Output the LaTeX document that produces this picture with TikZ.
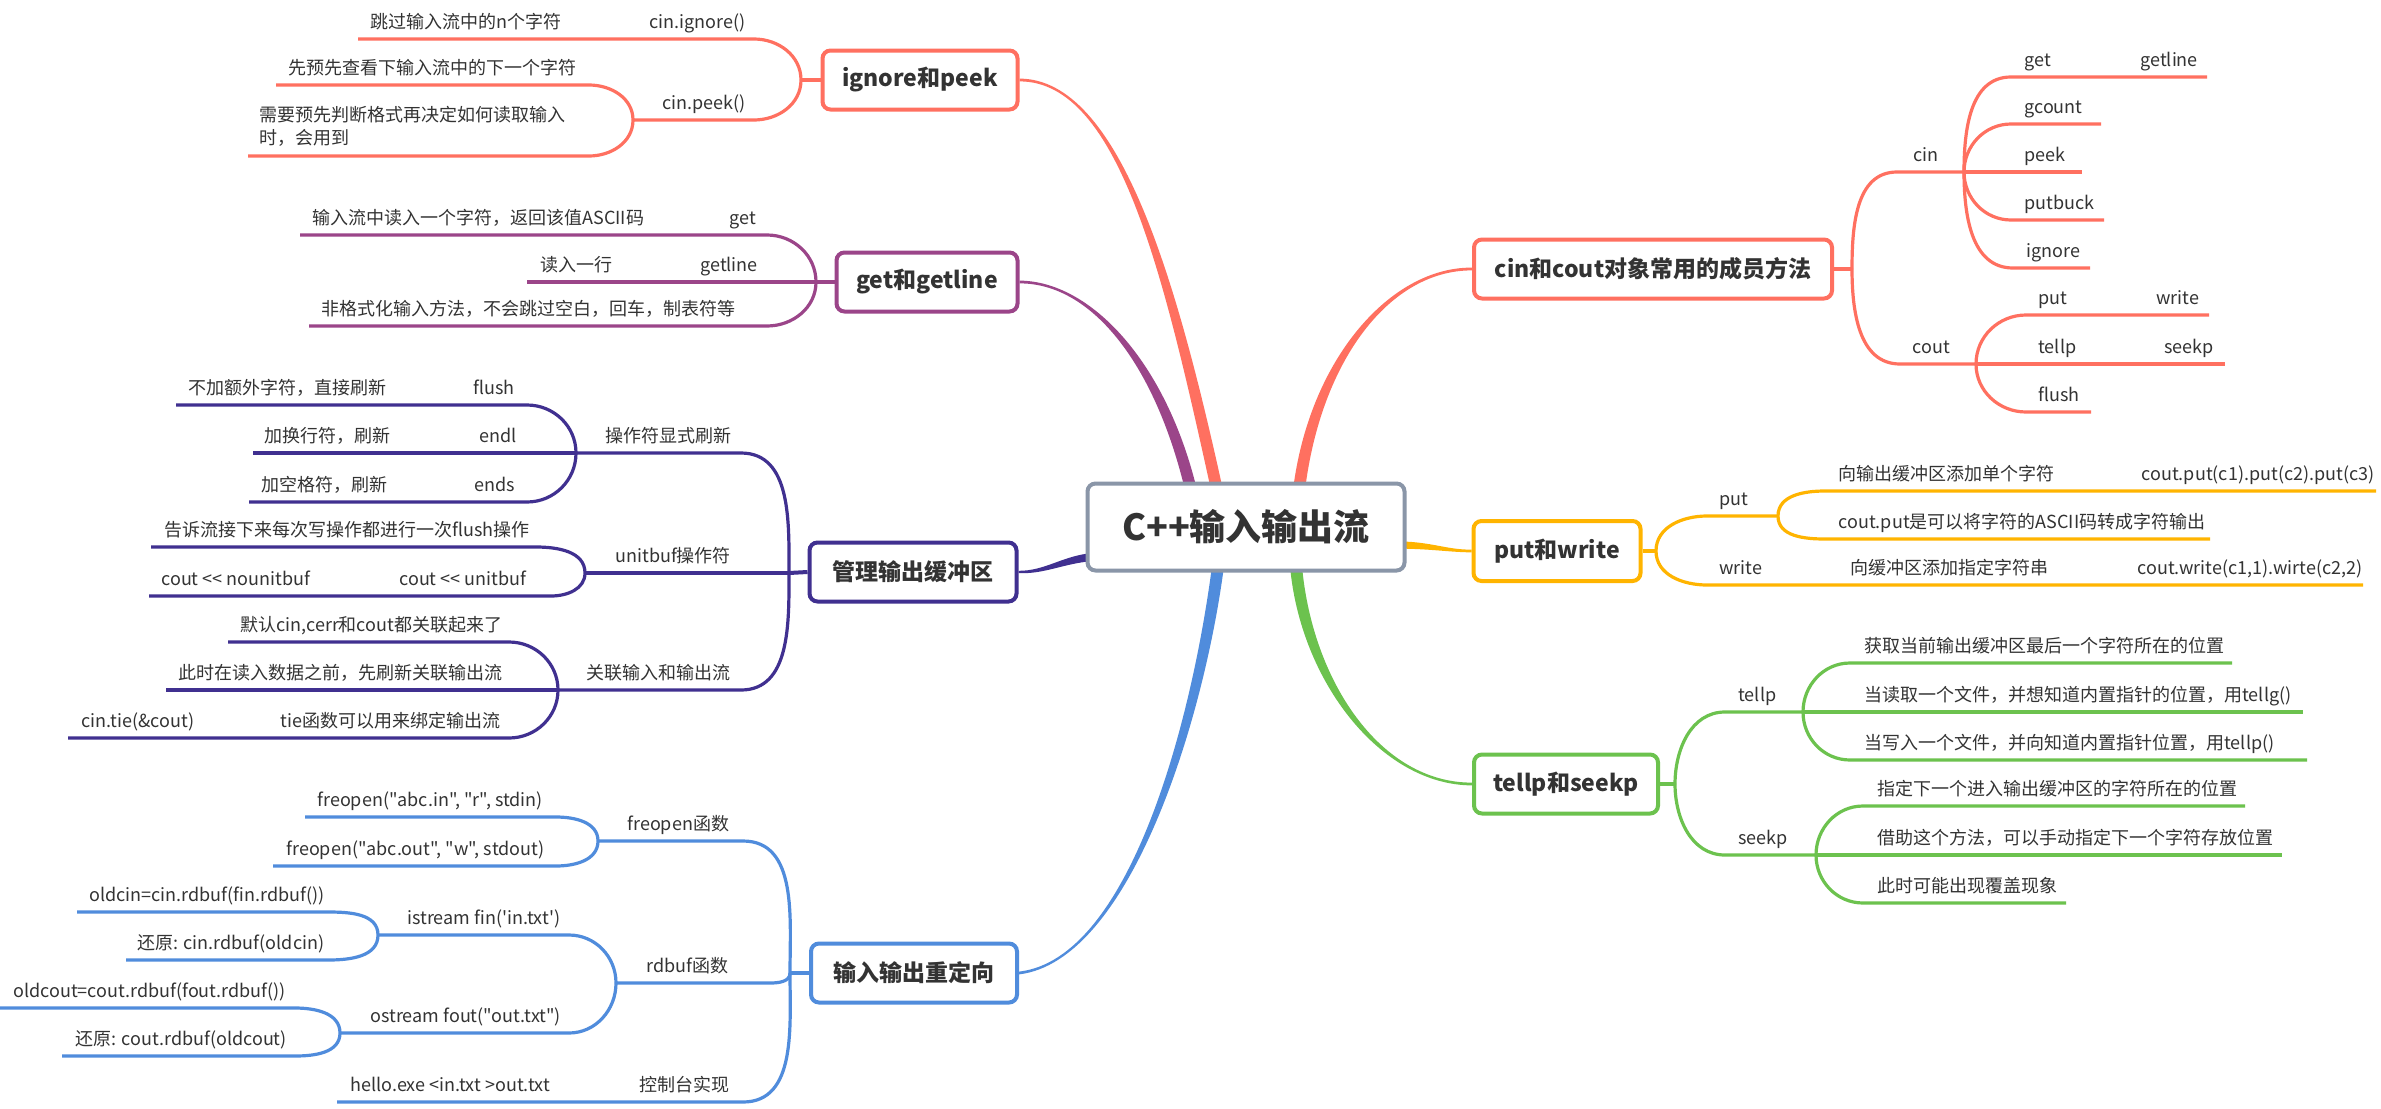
\documentclass[tikz,border=0pt]{standalone}
\usepackage{fontspec}
\setmainfont{Noto Sans CJK SC}[Ligatures=TeXOff]
\usepackage{tikz}
\definecolor{coral}{HTML}{FF7060}
\definecolor{plum}{HTML}{9B4589}
\definecolor{indigo}{HTML}{403090}
\definecolor{sky}{HTML}{508CDC}
\definecolor{amber}{HTML}{FFB400}
\definecolor{leaf}{HTML}{6CC24E}
\definecolor{slate}{HTML}{8A96A8}
\definecolor{ink}{HTML}{333333}

\begin{document}
\begin{tikzpicture}[x=0.5pt, y=-0.5pt,
  topic/.style={shape=rectangle, rounded corners=4pt, draw, line width=2pt, fill=white, text=ink, inner sep=0pt, minimum height=29.5pt, font=\fontsize{11.5}{14}\selectfont\bfseries},
  lbl/.style={anchor=base west, inner sep=0pt, text=ink, font=\fontsize{9}{11.5}\selectfont},
  ln/.style={line width=1.6pt},
  stub/.style={line width=2pt}]
\useasboundingbox (0,0) rectangle (2381,1108);
\fill[white] (0,0) rectangle (2381,1108);

\node[topic, draw=coral, minimum width=97.5pt] (ign) at (920,80) {ignore和peek};
\node[topic, draw=plum, minimum width=90.5pt] (gg) at (927,282) {get和getline};
\node[topic, draw=indigo, minimum width=103.5pt] (mgr) at (913,572) {管理输出缓冲区};
\node[topic, draw=sky, minimum width=103pt] (rd) at (914,973) {输入输出重定向};
\node[topic, draw=coral, minimum width=179pt] (cc) at (1653,269) {cin和cout对象常用的成员方法};
\node[topic, draw=amber, minimum width=83.5pt, minimum height=30pt] (pw) at (1557,551) {put和write};
\node[topic, draw=leaf, minimum width=92pt] (ts) at (1566,784) {tellp和seekp};

\coordinate (rA) at (1217,490);
\coordinate (rB) at (1191,490);
\coordinate (rC) at (1092,557);
\coordinate (rD) at (1218,566);
\coordinate (rE) at (1299,490);
\coordinate (rF) at (1400,545);
\coordinate (rG) at (1296,566);
\fill[coral] ([yshift=-0.7pt]ign.east) .. controls (1120,81) and (1165,281) .. ([xshift=-3pt]rA) -- ([xshift=3pt]rA) .. controls (1177,281) and (1120,79) .. ([yshift=0.7pt]ign.east) -- cycle;
\fill[plum] ([yshift=-0.7pt]gg.east) .. controls (1090,283) and (1154,361) .. ([xshift=-3pt]rB) -- ([xshift=3pt]rB) .. controls (1166,361) and (1090,281) .. ([yshift=0.7pt]gg.east) -- cycle;
\fill[indigo] ([yshift=0.6pt]mgr.east) .. controls (1045,571) and (1062,556) .. ([yshift=2pt]rC) -- ([yshift=-2pt]rC) .. controls (1062,564) and (1045,574) .. ([yshift=-0.6pt]mgr.east) -- cycle;
\fill[sky] ([yshift=0.7pt]rd.east) .. controls (1130,959) and (1192,720) .. ([xshift=-3pt]rD) -- ([xshift=3pt]rD) .. controls (1204,720) and (1130,961) .. ([yshift=-0.7pt]rd.east) -- cycle;
\fill[coral] ([xshift=-3pt]rE) .. controls (1309,360) and (1390,267) .. ([yshift=0.7pt]cc.west) -- ([yshift=-0.7pt]cc.west) .. controls (1390,270) and (1321,360) .. ([xshift=3pt]rE) -- cycle;
\fill[amber] ([yshift=1.8pt]rF) .. controls (1432,542) and (1448,550) .. ([yshift=0.7pt]pw.west) -- ([yshift=-0.7pt]pw.west) .. controls (1448,552) and (1432,549) .. ([yshift=-1.8pt]rF) -- cycle;
\fill[leaf] ([xshift=3pt]rG) .. controls (1312,680) and (1380,783) .. ([yshift=0.7pt]ts.west) -- ([yshift=-0.7pt]ts.west) .. controls (1380,785) and (1300,680) .. ([xshift=-3pt]rG) -- cycle;

\node[topic, draw=slate, minimum width=158.5pt, minimum height=43.5pt, font=\fontsize{18}{22}\selectfont\bfseries] (root) at (1246,527) {C++输入输出流};

% ignore和peek
\coordinate (jI) at (801,80);
\coordinate (igA) at (754,39); \coordinate (igAx) at (358,39);
\coordinate (igB) at (754,120); \coordinate (jP) at (633,120);
\coordinate (igC) at (589,85); \coordinate (igCx) at (276,85);
\coordinate (igD) at (589,156); \coordinate (igDx) at (248,156);
\draw[stub, coral] (ign.west) -- (jI);
\draw[ln, coral] (jI) to[out=90, in=0] (igA) -- (igAx);
\draw[ln, coral] (jI) to[out=-90, in=0] (igB) -- (jP);
\draw[ln, coral] (jP) to[out=90, in=0] (igC) -- (igCx);
\draw[ln, coral] (jP) to[out=-90, in=0] (igD) -- (igDx);
\node[lbl] (igT1) at (370,28) {跳过输入流中的n个字符};
\node[lbl] (igT2) at (649,28) {cin.ignore()};
\node[lbl] (igT3) at (662,109) {cin.peek()};
\node[lbl] (igT4) at (288,74) {先预先查看下输入流中的下一个字符};
\node[lbl, anchor=south west, align=left] (igT5) at (259,147) {需要预先判断格式再决定如何读取输入\\时，会用到};

% get和getline
\coordinate (jG) at (816,282);
\coordinate (ggA) at (767,235); \coordinate (ggAx) at (300,235);
\coordinate (ggB) at (527,282);
\coordinate (ggC) at (767,326); \coordinate (ggCx) at (309,326);
\draw[stub, plum] (gg.west) -- (jG);
\draw[ln, plum] (jG) to[out=90, in=0] (ggA) -- (ggAx);
\draw[ln, plum] (jG) -- (ggB);
\draw[ln, plum] (jG) to[out=-90, in=0] (ggC) -- (ggCx);
\node[lbl] (ggT1) at (312,224) {输入流中读入一个字符，返回该值ASCII码};
\node[lbl] (ggT2) at (729,224) {get};
\node[lbl] (ggT3) at (540,271) {读入一行};
\node[lbl] (ggT4) at (700,271) {getline};
\node[lbl] (ggT5) at (321,315) {非格式化输入方法，不会跳过空白，回车，制表符等};

% 管理输出缓冲区
\coordinate (jM) at (789,573);
\coordinate (mgA) at (741,453); \coordinate (jF) at (576,453);
\coordinate (mgB) at (527,405); \coordinate (mgBx) at (176,405);
\coordinate (mgC) at (253,453);
\coordinate (mgD) at (527,502); \coordinate (mgDx) at (249,502);
\coordinate (jU) at (585,573);
\coordinate (mgE) at (536,547); \coordinate (mgEx) at (151,547);
\coordinate (mgF) at (551,596); \coordinate (mgFx) at (149,596);
\coordinate (mgG) at (741,690); \coordinate (jL) at (558,690);
\coordinate (mgH) at (509,642); \coordinate (mgHx) at (228,642);
\coordinate (mgI) at (166,690);
\coordinate (mgJ) at (509,738); \coordinate (mgJx) at (68,738);
\draw[stub, indigo] (mgr.west) -- (jM);
\draw[ln, indigo] (jM) to[out=90, in=0] (mgA) -- (jF);
\draw[ln, indigo] (jF) to[out=90, in=0] (mgB) -- (mgBx);
\draw[ln, indigo] (jF) -- (mgC);
\draw[ln, indigo] (jF) to[out=-90, in=0] (mgD) -- (mgDx);
\draw[ln, indigo] (jM) -- (jU);
\draw[ln, indigo] (jU) to[out=90, in=0] (mgE) -- (mgEx);
\draw[ln, indigo] (jU) to[out=-90, in=0] (mgF) -- (mgFx);
\draw[ln, indigo] (jM) to[out=-90, in=0] (mgG) -- (jL);
\draw[ln, indigo] (jL) to[out=90, in=0] (mgH) -- (mgHx);
\draw[ln, indigo] (jL) -- (mgI);
\draw[ln, indigo] (jL) to[out=-90, in=0] (mgJ) -- (mgJx);
\node[lbl] (mgT1) at (605,442) {操作符显式刷新};
\node[lbl] (mgT2) at (188,394) {不加额外字符，直接刷新};
\node[lbl] (mgT3) at (473,394) {flush};
\node[lbl] (mgT4) at (264,442) {加换行符，刷新};
\node[lbl] (mgT5) at (479,442) {endl};
\node[lbl] (mgT6) at (261,491) {加空格符，刷新};
\node[lbl] (mgT7) at (474,491) {ends};
\node[lbl] (mgT8) at (615,562) {unitbuf操作符};
\node[lbl] (mgT9) at (164,536) {告诉流接下来每次写操作都进行一次flush操作};
\node[lbl] (mgT10) at (161,585) {cout \textless\textless{} nounitbuf};
\node[lbl] (mgT11) at (399,585) {cout \textless\textless{} unitbuf};
\node[lbl] (mgT12) at (586,679) {关联输入和输出流};
\node[lbl] (mgT13) at (240,631) {默认cin,cerr和cout都关联起来了};
\node[lbl] (mgT14) at (178,679) {此时在读入数据之前，先刷新关联输出流};
\node[lbl] (mgT15) at (81,727) {cin.tie(\&cout)};
\node[lbl] (mgT16) at (280,727) {tie函数可以用来绑定输出流};

% 输入输出重定向
\coordinate (jR) at (790,973);
\coordinate (rdA) at (743,841); \coordinate (jFr) at (598,841);
\coordinate (rdB) at (556,817); \coordinate (rdBx) at (305,817);
\coordinate (rdC) at (556,866); \coordinate (rdCx) at (273,866);
\coordinate (rdD) at (770,983); \coordinate (jRb) at (616,983);
\coordinate (rdE) at (569,935); \coordinate (jIs) at (378,935);
\coordinate (rdF) at (328,912); \coordinate (rdFx) at (77,912);
\coordinate (rdG) at (328,960); \coordinate (rdGx) at (126,960);
\coordinate (rdH) at (569,1033); \coordinate (jOs) at (340,1033);
\coordinate (rdI) at (295,1008); \coordinate (rdIx) at (0,1008);
\coordinate (rdJ) at (295,1056); \coordinate (rdJx) at (62,1056);
\coordinate (rdK) at (743,1102); \coordinate (rdKx) at (337,1102);
\draw[stub, sky] (rd.west) -- (jR);
\draw[ln, sky] (jR) to[out=90, in=0] (rdA) -- (jFr);
\draw[ln, sky] (jFr) to[out=90, in=0] (rdB) -- (rdBx);
\draw[ln, sky] (jFr) to[out=-90, in=0] (rdC) -- (rdCx);
\draw[ln, sky] (jR) to[out=-90, in=0] (rdD) -- (jRb);
\draw[ln, sky] (jRb) to[out=90, in=0] (rdE) -- (jIs);
\draw[ln, sky] (jIs) to[out=90, in=0] (rdF) -- (rdFx);
\draw[ln, sky] (jIs) to[out=-90, in=0] (rdG) -- (rdGx);
\draw[ln, sky] (jRb) to[out=-90, in=0] (rdH) -- (jOs);
\draw[ln, sky] (jOs) to[out=90, in=0] (rdI) -- (rdIx);
\draw[ln, sky] (jOs) to[out=-90, in=0] (rdJ) -- (rdJx);
\draw[ln, sky] (jR) to[out=-90, in=0] (rdK) -- (rdKx);
\node[lbl] (rdT1) at (627,830) {freopen函数};
\node[lbl] (rdT2) at (317,806) {freopen("abc.in", "r", stdin)};
\node[lbl] (rdT3) at (286,855) {freopen("abc.out", "w", stdout)};
\node[lbl] (rdT4) at (646,972) {rdbuf函数};
\node[lbl] (rdT5) at (407,924) {istream fin('in.txt')};
\node[lbl] (rdT6) at (89,901) {oldcin=cin.rdbuf(fin.rdbuf())};
\node[lbl] (rdT7) at (137,949) {还原: cin.rdbuf(oldcin)};
\node[lbl] (rdT8) at (370,1022) {ostream fout("out.txt")};
\node[lbl] (rdT9) at (13,997) {oldcout=cout.rdbuf(fout.rdbuf())};
\node[lbl] (rdT10) at (75,1045) {还原: cout.rdbuf(oldcout)};
\node[lbl] (rdT11) at (639,1091) {控制台实现};
\node[lbl] (rdT12) at (350,1091) {hello.exe \textless in.txt \textgreater out.txt};

% cin和cout对象常用的成员方法
\coordinate (jC) at (1852,269);
\coordinate (ccA) at (1897,172); \coordinate (jCi) at (1964,172);
\coordinate (ccB) at (2011,77); \coordinate (ccBx) at (2207,77);
\coordinate (ccC) at (2011,124); \coordinate (ccCx) at (2101,124);
\coordinate (ccD) at (2082,172);
\coordinate (ccE) at (2011,220); \coordinate (ccEx) at (2104,220);
\coordinate (ccF) at (2013,268); \coordinate (ccFx) at (2090,268);
\coordinate (ccG) at (1900,364); \coordinate (jCo) at (1976,364);
\coordinate (ccH) at (2026,315); \coordinate (ccHx) at (2209,315);
\coordinate (ccI) at (2225,364);
\coordinate (ccJ) at (2026,412); \coordinate (ccJx) at (2091,412);
\draw[stub, coral] (cc.east) -- (jC);
\draw[ln, coral] (jC) to[out=90, in=180] (ccA) -- (jCi);
\draw[ln, coral] (jCi) to[out=90, in=180] (ccB) -- (ccBx);
\draw[ln, coral] (jCi) to[out=90, in=180] (ccC) -- (ccCx);
\draw[ln, coral] (jCi) -- (ccD);
\draw[ln, coral] (jCi) to[out=-90, in=180] (ccE) -- (ccEx);
\draw[ln, coral] (jCi) to[out=-90, in=180] (ccF) -- (ccFx);
\draw[ln, coral] (jC) to[out=-90, in=180] (ccG) -- (jCo);
\draw[ln, coral] (jCo) to[out=90, in=180] (ccH) -- (ccHx);
\draw[ln, coral] (jCo) -- (ccI);
\draw[ln, coral] (jCo) to[out=-90, in=180] (ccJ) -- (ccJx);
\node[lbl] (ccT1) at (1913,161) {cin};
\node[lbl] (ccT2) at (2024,66) {get};
\node[lbl] (ccT3) at (2140,66) {getline};
\node[lbl] (ccT4) at (2024,113) {gcount};
\node[lbl] (ccT5) at (2024,161) {peek};
\node[lbl] (ccT6) at (2024,209) {putbuck};
\node[lbl] (ccT7) at (2026,257) {ignore};
\node[lbl] (ccT8) at (1912,353) {cout};
\node[lbl] (ccT9) at (2038,304) {put};
\node[lbl] (ccT10) at (2156,304) {write};
\node[lbl] (ccT11) at (2038,353) {tellp};
\node[lbl] (ccT12) at (2164,353) {seekp};
\node[lbl] (ccT13) at (2038,401) {flush};

% put和write
\coordinate (jPw) at (1656,551);
\coordinate (pwA) at (1707,516); \coordinate (jPu) at (1778,516);
\coordinate (pwB) at (1825,491); \coordinate (pwBx) at (2376,491);
\coordinate (pwC) at (1825,539); \coordinate (pwCx) at (2210,539);
\coordinate (pwD) at (1707,585); \coordinate (pwDx) at (2363,585);
\draw[stub, amber] (pw.east) -- (jPw);
\draw[ln, amber] (jPw) to[out=90, in=180] (pwA) -- (jPu);
\draw[ln, amber] (jPu) to[out=90, in=180] (pwB) -- (pwBx);
\draw[ln, amber] (jPu) to[out=-90, in=180] (pwC) -- (pwCx);
\draw[ln, amber] (jPw) to[out=-90, in=180] (pwD) -- (pwDx);
\node[lbl] (pwT1) at (1719,505) {put};
\node[lbl] (pwT2) at (1838,480) {向输出缓冲区添加单个字符};
\node[lbl] (pwT3) at (2141,480) {cout.put(c1).put(c2).put(c3)};
\node[lbl] (pwT4) at (1838,528) {cout.put是可以将字符的ASCII码转成字符输出};
\node[lbl] (pwT5) at (1719,574) {write};
\node[lbl] (pwT6) at (1850,574) {向缓冲区添加指定字符串};
\node[lbl] (pwT7) at (2137,574) {cout.write(c1,1).wirte(c2,2)};

% tellp和seekp
\coordinate (jT) at (1675,784);
\coordinate (tsA) at (1725,712); \coordinate (jTe) at (1803,712);
\coordinate (tsB) at (1850,663); \coordinate (tsBx) at (2232,663);
\coordinate (tsC) at (2303,712);
\coordinate (tsD) at (1850,760); \coordinate (tsDx) at (2307,760);
\coordinate (tsE) at (1725,855); \coordinate (jSe) at (1816,855);
\coordinate (tsF) at (1863,806); \coordinate (tsFx) at (2245,806);
\coordinate (tsG) at (2282,855);
\coordinate (tsH) at (1863,903); \coordinate (tsHx) at (2066,903);
\draw[stub, leaf] (ts.east) -- (jT);
\draw[ln, leaf] (jT) to[out=90, in=180] (tsA) -- (jTe);
\draw[ln, leaf] (jTe) to[out=90, in=180] (tsB) -- (tsBx);
\draw[ln, leaf] (jTe) -- (tsC);
\draw[ln, leaf] (jTe) to[out=-90, in=180] (tsD) -- (tsDx);
\draw[ln, leaf] (jT) to[out=-90, in=180] (tsE) -- (jSe);
\draw[ln, leaf] (jSe) to[out=90, in=180] (tsF) -- (tsFx);
\draw[ln, leaf] (jSe) -- (tsG);
\draw[ln, leaf] (jSe) to[out=-90, in=180] (tsH) -- (tsHx);
\node[lbl] (tsT1) at (1738,701) {tellp};
\node[lbl] (tsT2) at (1864,652) {获取当前输出缓冲区最后一个字符所在的位置};
\node[lbl] (tsT3) at (1864,701) {当读取一个文件，并想知道内置指针的位置，用tellg()};
\node[lbl] (tsT4) at (1864,749) {当写入一个文件，并向知道内置指针位置，用tellp()};
\node[lbl] (tsT5) at (1738,844) {seekp};
\node[lbl] (tsT6) at (1877,795) {指定下一个进入输出缓冲区的字符所在的位置};
\node[lbl] (tsT7) at (1877,844) {借助这个方法，可以手动指定下一个字符存放位置};
\node[lbl] (tsT8) at (1877,892) {此时可能出现覆盖现象};
\end{tikzpicture}
\end{document}
